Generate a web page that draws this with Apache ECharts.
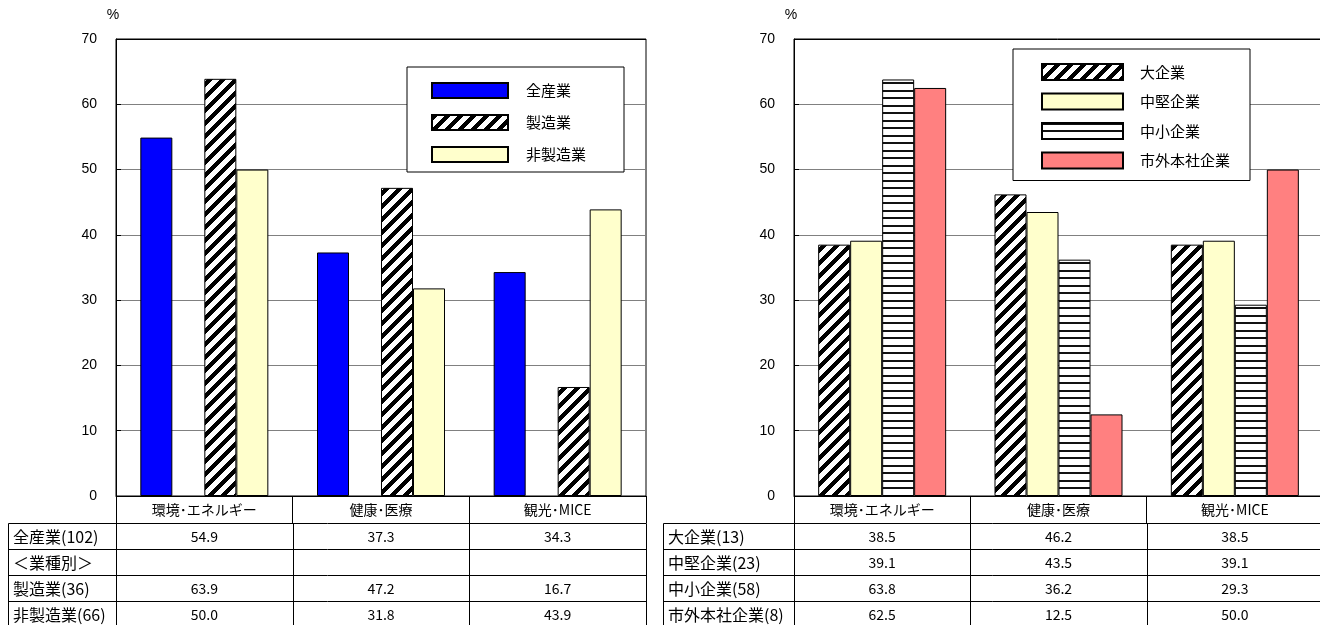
<!DOCTYPE html>
<html>
<head>
<meta charset="utf-8">
<script src="https://cdn.jsdelivr.net/npm/echarts@6/dist/echarts.min.js"></script>
<style>
html, body { margin: 0; padding: 0; background: #fff; }
#chart { width: 1320px; height: 625px; }
</style>
</head>
<body>
<div id="chart"></div>
<script>
// ---- data ----
const categories = ['環境･エネルギー', '健康･医療', '観光･MICE'];

// left panel: by industry (%)
const leftSeriesNames = ['全産業', '＜業種別＞', '製造業', '非製造業'];
const leftRowLabels = ['全産業(102)', '＜業種別＞', '製造業(36)', '非製造業(66)'];
const allIndustry = [54.9, 37.3, 34.3];
const industryHeading = [null, null, null];
const manufacturing = [63.9, 47.2, 16.7];
const nonManufacturing = [50.0, 31.8, 43.9];

// right panel: by company size (%)
const rightSeriesNames = ['大企業', '中堅企業', '中小企業', '市外本社企業'];
const rightRowLabels = ['大企業(13)', '中堅企業(23)', '中小企業(58)', '市外本社企業(8)'];
const largeFirms = [38.5, 46.2, 38.5];
const midFirms = [39.1, 43.5, 39.1];
const smallFirms = [63.8, 36.2, 29.3];
const outsideHqFirms = [62.5, 12.5, 50.0];

const yMin = 0, yMax = 70, yStep = 10;

// ---- layout ----
const FONT_NUM = "Arial, 'Liberation Sans', sans-serif";
const FONT_JP = "'Liberation Sans Narrow', 'Noto Sans CJK JP', sans-serif";
const PLOT_TOP = 39, PLOT_BOTTOM = 496;
const leftPanel = { left: 116, right: 646, tableLeft: 8 };
const rightPanel = { left: 794, right: 1323, tableLeft: 663 };
const TABLE_TOP = 523, ROW_H = 26;

// ---- fill patterns ----
function diagonalPattern() {
  const P = 13, c = document.createElement('canvas');
  c.width = P; c.height = P;
  const ctx = c.getContext('2d');
  const img = ctx.createImageData(P, P);
  for (let y = 0; y < P; y++) {
    for (let x = 0; x < P; x++) {
      const k = (y * P + x) * 4;
      const v = ((x + y) % P) < 6 ? 0 : 255;
      img.data[k] = img.data[k + 1] = img.data[k + 2] = v;
      img.data[k + 3] = 255;
    }
  }
  ctx.putImageData(img, 0, 0);
  return c;
}
function horizontalPattern() {
  const c = document.createElement('canvas');
  c.width = 4; c.height = 15;
  const ctx = c.getContext('2d');
  ctx.fillStyle = '#fff'; ctx.fillRect(0, 0, 4, 15);
  ctx.fillStyle = '#111';
  ctx.fillRect(0, 0, 4, 2);
  ctx.fillRect(0, 7, 4, 2);
  return c;
}
const diagFill = { image: diagonalPattern(), repeat: 'repeat' };
const hLineFill = { image: horizontalPattern(), repeat: 'repeat' };

// ---- builders ----
function barSeries(name, data, color, gi) {
  return {
    type: 'bar', name: name, data: data,
    xAxisIndex: gi, yAxisIndex: gi,
    barWidth: 32, barGap: '0%',
    itemStyle: { color: color, borderColor: '#000', borderWidth: 1 },
    emphasis: { disabled: true },
    animation: false
  };
}
function gridFor(p) {
  return {
    left: p.left, top: PLOT_TOP, width: p.right - p.left, height: PLOT_BOTTOM - PLOT_TOP,
    show: true, borderColor: '#000', borderWidth: 1, backgroundColor: 'transparent',
    containLabel: false, outerBoundsMode: 'none'
  };
}
function xAxisFor(gi) {
  return {
    type: 'category', gridIndex: gi, data: categories,
    axisLine: { show: true, lineStyle: { color: '#000', width: 1 } },
    axisTick: { show: true, length: 27, lineStyle: { color: '#000' } },
    axisLabel: { interval: 0, margin: 7, color: '#000', fontSize: 14, fontFamily: FONT_JP },
    splitLine: { show: false }
  };
}
function yAxisFor(gi) {
  const colors = [];
  for (let v = yMin; v <= yMax; v += yStep) colors.push(v === yMin || v === yMax ? '#000' : '#808080');
  return {
    type: 'value', gridIndex: gi, min: yMin, max: yMax, interval: yStep,
    name: '%', nameLocation: 'end', nameGap: 17,
    nameTextStyle: { color: '#000', fontSize: 14, fontFamily: FONT_NUM, padding: [0, 6, 0, 0] },
    axisLine: { show: true, lineStyle: { color: '#000' } },
    axisTick: { show: true, inside: true, length: 5, lineStyle: { color: '#000' } },
    axisLabel: { color: '#000', fontSize: 14, margin: 19, fontFamily: FONT_NUM },
    splitLine: { show: true, lineStyle: { color: colors, width: 1 } }
  };
}
function legendFor(names, box) {
  return {
    data: names, orient: 'vertical', left: box.left, top: box.top,
    icon: 'rect', itemWidth: box.iw, itemHeight: box.ih, itemGap: box.gap,
    padding: box.padding, borderColor: '#000', borderWidth: 1, borderRadius: 0,
    backgroundColor: '#fff', selectedMode: false,
    textStyle: { color: '#000', fontSize: 15, fontFamily: FONT_JP, padding: [0, 0, 0, box.textGap - 5], lineHeight: box.ih }
  };
}

// data table under each chart (header row is the category axis)
function tableFor(p, rowLabels, rows) {
  const els = [];
  const n = rowLabels.length;
  const colW = (p.right - p.left) / categories.length;
  const bottom = TABLE_TOP + ROW_H * n;
  const px = v => Math.round(v) + 0.5;
  const line = (x1, y1, x2, y2) => ({
    type: 'line', silent: true, z: 10,
    shape: { x1: x1, y1: y1, x2: x2, y2: y2 },
    style: { stroke: '#000', lineWidth: 1 }
  });
  for (let i = 0; i <= n; i++) {
    const y = px(TABLE_TOP + ROW_H * i);
    els.push(line(px(p.tableLeft), y, px(p.right), y));
  }
  els.push(line(px(p.tableLeft), px(TABLE_TOP), px(p.tableLeft), bottom));
  for (let j = 0; j <= categories.length; j++) {
    const x = px(p.left + colW * j);
    els.push(line(x, px(TABLE_TOP), x, bottom));
  }
  for (let i = 0; i < n; i++) {
    const cy = TABLE_TOP + ROW_H * (i + 0.5) + 0.5;
    els.push({
      type: 'text', silent: true, z: 10,
      style: { text: rowLabels[i], x: p.tableLeft + 5, y: cy, fill: '#000',
               fontSize: 16, fontFamily: FONT_JP, align: 'left', verticalAlign: 'middle' }
    });
    for (let j = 0; j < categories.length; j++) {
      const v = rows[i][j];
      if (v === null || v === undefined) continue;
      els.push({
        type: 'text', silent: true, z: 10,
        style: { text: v.toFixed(1), x: p.left + colW * (j + 0.5), y: cy, fill: '#000',
                 fontSize: 14, fontFamily: FONT_JP, align: 'center', verticalAlign: 'middle' }
      });
    }
  }
  return els;
}

const leftRows = [allIndustry, industryHeading, manufacturing, nonManufacturing];
const rightRows = [largeFirms, midFirms, smallFirms, outsideHqFirms];

const option = {
  animation: false,
  backgroundColor: '#fff',
  grid: [gridFor(leftPanel), gridFor(rightPanel)],
  xAxis: [xAxisFor(0), xAxisFor(1)],
  yAxis: [yAxisFor(0), yAxisFor(1)],
  legend: [
    legendFor(['全産業', '製造業', '非製造業'],
      { left: 407, top: 67, iw: 76, ih: 15, gap: 15, padding: [15, 38, 9, 24], textGap: 18 }),
    legendFor(['大企業', '中堅企業', '中小企業', '市外本社企業'],
      { left: 1013, top: 49, iw: 81, ih: 16, gap: 11.5, padding: [14, 20, 11, 28], textGap: 17 })
  ],
  series: [
    barSeries(leftSeriesNames[0], allIndustry, '#0000ff', 0),
    barSeries(leftSeriesNames[1], industryHeading, '#ffffff', 0),
    barSeries(leftSeriesNames[2], manufacturing, diagFill, 0),
    barSeries(leftSeriesNames[3], nonManufacturing, '#ffffcc', 0),
    barSeries(rightSeriesNames[0], largeFirms, diagFill, 1),
    barSeries(rightSeriesNames[1], midFirms, '#ffffcc', 1),
    barSeries(rightSeriesNames[2], smallFirms, hLineFill, 1),
    barSeries(rightSeriesNames[3], outsideHqFirms, '#ff8080', 1)
  ],
  graphic: [].concat(
    tableFor(leftPanel, leftRowLabels, leftRows),
    tableFor(rightPanel, rightRowLabels, rightRows)
  )
};

const chart = echarts.init(document.getElementById('chart'), null, { renderer: 'canvas' });
chart.setOption(option);
</script>
</body>
</html>
